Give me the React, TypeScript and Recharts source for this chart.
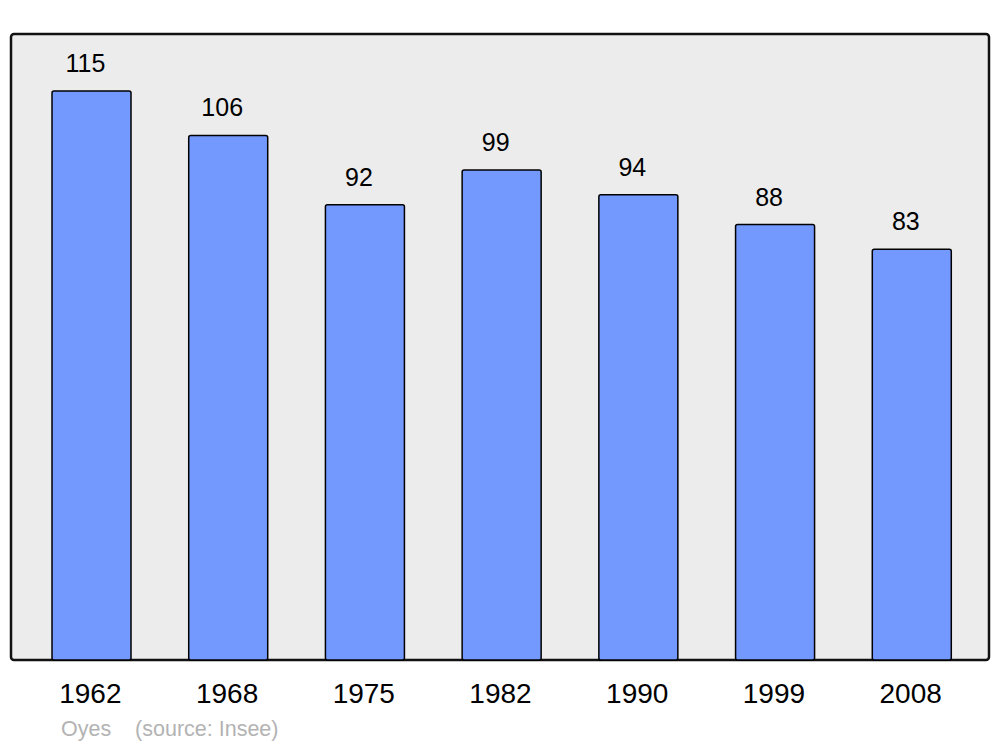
import React from "react";
import { BarChart, Bar, XAxis, YAxis, LabelList, ReferenceArea } from "recharts";

const years = ["1962", "1968", "1975", "1982", "1990", "1999", "2008"];
const population = [115, 106, 92, 99, 94, 88, 83];
const placeName = "Oyes";
const sourceText = "(source: Insee)";

const data = years.map((y, i) => ({ year: y, value: population[i] }));

const FONT = "'Liberation Sans', Arial, sans-serif";
const PAD_L = 12;
const PAD_R = 9;

const Frame = (props: any) => {
  const { x, y, width, height } = props;
  return (
    <rect
      x={x - PAD_L}
      y={y}
      width={width + PAD_L + PAD_R}
      height={height}
      rx={3}
      ry={3}
      fill="#ececec"
      stroke="#111"
      strokeWidth={2.5}
    />
  );
};

export default function App() {
  return (
    <div style={{ position: "relative", width: 1000, height: 747, background: "#fff", fontFamily: FONT }}>
      <style>{"body{margin:0;}"}</style>
      <BarChart
        width={1000}
        height={747}
        data={data}
        margin={{ top: 34, right: 11, bottom: 57, left: 11 }}
      >
        <YAxis hide domain={[0, 126.5]} />
        <XAxis
          dataKey="year"
          axisLine={false}
          tickLine={false}
          tickMargin={17}
          height={30}
          padding={{ left: PAD_L, right: PAD_R }}
          tick={{ fill: "#000", fontSize: 28, fontFamily: FONT, dx: -1 }}
          interval={0}
        />
        <ReferenceArea y1={0} y2={126.5} shape={<Frame />} ifOverflow="visible" />
        <Bar
          dataKey="value"
          fill="#7399ff"
          stroke="#000"
          strokeWidth={1.5}
          barSize={79}
          radius={[2, 2, 2, 2]}
          isAnimationActive={false}
        >
          <LabelList
            dataKey="value"
            position="top"
            offset={19}
            dx={-6}
            fill="#000"
            fontSize={25}
            fontFamily={FONT}
          />
        </Bar>
      </BarChart>
      <div
        style={{
          position: "absolute",
          left: 61,
          top: 717,
          fontSize: 21.5,
          color: "#b3b3b3",
          fontFamily: FONT,
          whiteSpace: "pre",
          lineHeight: "24px",
        }}
      >
        {placeName + "    " + sourceText}
      </div>
    </div>
  );
}
